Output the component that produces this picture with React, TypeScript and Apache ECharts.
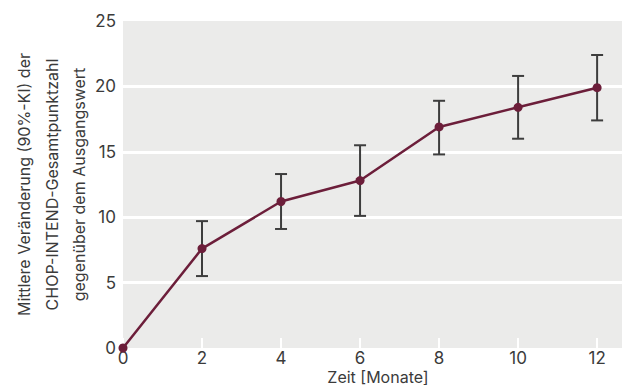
import React, { useEffect, useRef } from "react";
import * as echarts from "echarts";

const months = [0, 2, 4, 6, 8, 10, 12];
const meanChange = [0, 7.6, 11.2, 12.8, 16.9, 18.4, 19.9];
const ciLow = [0, 5.5, 9.1, 10.1, 14.8, 16.0, 17.4];
const ciHigh = [0, 9.7, 13.3, 15.5, 18.9, 20.8, 22.4];
const xTicks = [0, 2, 4, 6, 8, 10, 12];
const xLabel = "Zeit [Monate]";
const yLabel = "Mittlere Veränderung (90%-KI) der\nCHOP-INTEND-Gesamtpunktzahl\ngegenüber dem Ausgangswert";

const FONT = "Inter, 'Noto Sans', sans-serif";
const MAROON = "#6c1e3a";
const TEXT = "#3b3b3b";

export default function App() {
  const ref = useRef<HTMLDivElement>(null);
  useEffect(() => {
    if (!ref.current) return;
    const chart = echarts.init(ref.current, undefined, { renderer: "svg" });
    const errData = months
      .map((m, i) => [m, ciLow[i], ciHigh[i]])
      .filter((d) => d[2] > d[1]);
    chart.setOption({
      animation: false,
      grid: {
        left: 123,
        top: 21,
        right: 0,
        bottom: 37,
        show: true,
        backgroundColor: "#ebebea",
        borderWidth: 0,
        containLabel: false,
        outerBoundsMode: "none",
      },
      xAxis: {
        type: "value",
        min: 0,
        max: 12.63,
        name: xLabel,
        nameLocation: "middle",
        nameMoveOverlap: false,
        nameGap: 21,
        nameTextStyle: { fontFamily: FONT, fontSize: 16, lineHeight: 15, color: TEXT, padding: [0, 0, 0, 11] },
        axisLine: { show: false },
        axisTick: {
          show: true,
          inside: true,
          length: 10,
          customValues: xTicks,
          lineStyle: { color: "#ffffff", width: 2 },
        },
        axisLabel: {
          customValues: xTicks,
          margin: 2,
          fontFamily: FONT,
          fontSize: 17,
          lineHeight: 15,
          color: TEXT,
        },
        splitLine: { show: false },
      },
      yAxis: {
        type: "value",
        min: 0,
        max: 25,
        interval: 5,
        name: yLabel,
        nameLocation: "middle",
        nameMoveOverlap: false,
        nameRotate: 90,
        nameGap: 30,
        nameTextStyle: { fontFamily: FONT, fontSize: 16, color: TEXT, lineHeight: 27.5, align: "center" },
        axisLine: { show: false },
        axisTick: { show: false },
        axisLabel: { margin: 7, fontFamily: FONT, fontSize: 17, color: TEXT },
        splitLine: {
          show: true,
          showMinLine: false,
          showMaxLine: false,
          lineStyle: { color: "#ffffff", width: 3 },
        },
      },
      series: [
        {
          type: "custom",
          z: 1,
          clip: false,
          data: errData,
          renderItem: (params: any, api: any) => {
            const x = api.value(0);
            const lo = api.coord([x, api.value(1)]);
            const hi = api.coord([x, api.value(2)]);
            const hw = 6;
            const style = { stroke: "#3d3d3d", lineWidth: 2 };
            return {
              type: "group",
              children: [
                { type: "line", shape: { x1: lo[0], y1: lo[1], x2: hi[0], y2: hi[1] }, style },
                { type: "line", shape: { x1: lo[0] - hw, y1: lo[1], x2: lo[0] + hw, y2: lo[1] }, style },
                { type: "line", shape: { x1: hi[0] - hw, y1: hi[1], x2: hi[0] + hw, y2: hi[1] }, style },
              ],
            };
          },
        },
        {
          type: "line",
          z: 3,
          clip: false,
          data: months.map((m, i) => [m, meanChange[i]]),
          symbol: "circle",
          symbolSize: 9,
          lineStyle: { color: MAROON, width: 2.5 },
          itemStyle: { color: MAROON },
        },
      ],
    });
    return () => chart.dispose();
  }, []);
  return <div ref={ref} style={{ width: 622, height: 385, position: "absolute", left: 0, top: 0 }} />;
}
